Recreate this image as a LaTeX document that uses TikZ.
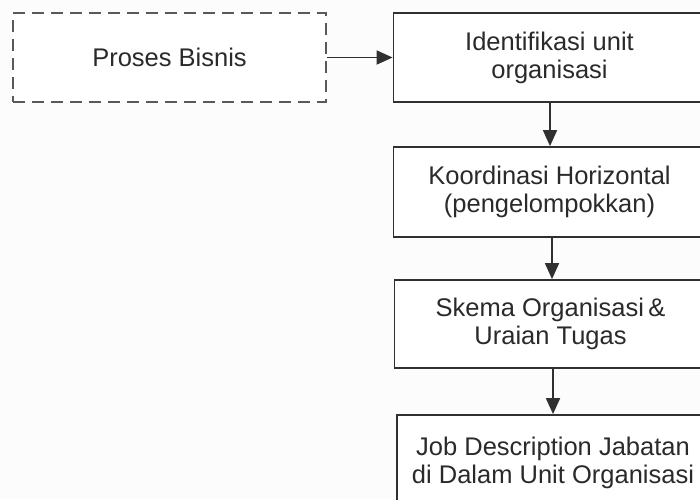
\documentclass[tikz,border=0pt]{standalone}
\usepackage{fontspec}
\setmainfont{Liberation Sans}
\usetikzlibrary{arrows.meta}
\definecolor{txt}{HTML}{2A2A2A}
\definecolor{ln}{HTML}{303030}
\begin{document}
\begin{tikzpicture}[x=0.5pt,y=-0.5pt,
  box/.style={draw=ln,line width=0.9pt,fill=white,minimum width=156pt,inner sep=0pt,
    text=txt,align=center,font=\fontsize{12.75pt}{14pt}\selectfont},
  dbox/.style={box,draw=ln!80,dash pattern=on 6pt off 3.5pt,minimum width=156.5pt,minimum height=44.5pt},
  conn/.style={draw=ln,line width=0.9pt,-{Triangle[length=8pt,width=7pt]}}]
\useasboundingbox (0,0) rectangle (700,499);
\fill[white!99!black] (0,0) rectangle (700,499);
\clip (0,0) rectangle (700,499);
\node[dbox] (pb) at (169.5,57.5) {Proses Bisnis};
\node[box,minimum height=44.5pt] (id) at (549.5,57.5) {Identifikasi unit\\organisasi};
\node[box,minimum height=45pt] (ko) at (549.5,192) {Koordinasi Horizontal\\(pengelompokkan)};
\node[box,minimum height=44pt] (sk) at (550.5,324) {Skema Organisasi\,\&\\Uraian Tugas};
\node[box,minimum height=48pt] (jd) at (553,463) {Job Description Jabatan\\di Dalam Unit Organisasi};
\draw[conn] (pb.east) -- (id.west);
\draw[conn] (id.south -| 550,0) -- (ko.north -| 550,0);
\draw[conn] (ko.south -| 552,0) -- (sk.north -| 552,0);
\draw[conn] (sk.south -| 553,0) -- (jd.north -| 553,0);
\end{tikzpicture}
\end{document}
